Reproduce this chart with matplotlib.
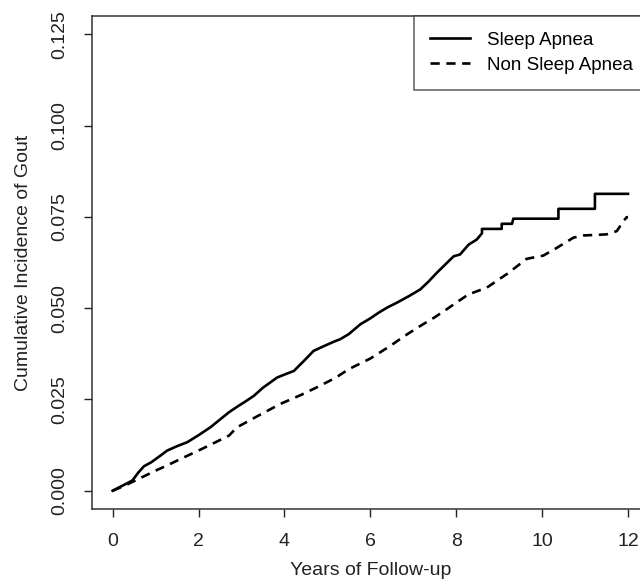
import numpy as np
import matplotlib.pyplot as plt
import matplotlib as mpl

mpl.rc('font', family=['Liberation Sans', 'DejaVu Sans'], size=14)

# cumulative incidence curves; plateaus in the late years are given as corner points
t_sleep = [0, 0.2, 0.46, 0.6, 0.73, 0.9, 1.1, 1.27, 1.5, 1.74, 2.0, 2.28, 2.5, 2.71,
           2.9, 3.1, 3.29, 3.5, 3.83, 4.0, 4.22, 4.45, 4.68, 4.9, 5.15, 5.3, 5.5, 5.77,
           6.0, 6.2, 6.4, 6.62, 6.9, 7.16, 7.35, 7.55, 7.75, 7.94, 8.09, 8.29, 8.48,
           8.6, 8.6, 9.06, 9.06, 9.3, 9.33, 10.38, 10.38, 11.23, 11.23, 12.0]
ci_sleep = [0, 0.0012, 0.0028, 0.005, 0.0067, 0.0078, 0.0095, 0.011, 0.0122, 0.0133,
            0.0152, 0.0174, 0.0195, 0.0215, 0.023, 0.0245, 0.026, 0.0282, 0.031, 0.0318,
            0.0328, 0.0355, 0.0383, 0.0395, 0.0408, 0.0415, 0.0429, 0.0456, 0.0472,
            0.0488, 0.0502, 0.0515, 0.0533, 0.0551, 0.0572, 0.0597, 0.062, 0.0642,
            0.0647, 0.0674, 0.0688, 0.0705, 0.0717, 0.0717, 0.0731, 0.0731, 0.0745,
            0.0745, 0.0772, 0.0772, 0.0813, 0.0813]

t_non = [0, 0.3, 0.65, 1.0, 1.3, 1.58, 2.0, 2.4, 2.71, 2.9, 3.4, 3.91, 4.4, 4.84, 5.2,
         5.5, 6.0, 6.47, 6.8, 7.16, 7.5, 7.78, 8.0, 8.29, 8.71, 9.2, 9.64, 10.03, 10.34,
         10.73, 10.96, 11.5, 11.74, 11.89, 11.97, 12.0]
ci_non = [0, 0.0015, 0.0035, 0.0055, 0.0071, 0.0087, 0.011, 0.0133, 0.0151, 0.0174,
          0.0206, 0.0238, 0.0263, 0.0288, 0.031, 0.0333, 0.0362, 0.0397, 0.0424, 0.0451,
          0.0475, 0.0497, 0.0515, 0.0538, 0.0556, 0.0595, 0.0635, 0.0644, 0.0665, 0.0693,
          0.0699, 0.0702, 0.0711, 0.0738, 0.0749, 0.0749]

xticks = [0, 2, 4, 6, 8, 10, 12]
yticks = [0.000, 0.025, 0.050, 0.075, 0.100, 0.125]

fig = plt.figure(figsize=(6.4, 5.79), dpi=100)
ax = fig.add_axes([0.14375, 0.1209, 0.86969, 0.85147])

ax.plot(t_sleep, ci_sleep, color='black', lw=1.9, label='Sleep Apnea')
ax.plot(t_non, ci_non, color='black', lw=1.9, dashes=(3.5, 2.5),
        label='Non Sleep Apnea')

ax.set_xlim(-0.48, 12.48)
ax.set_ylim(-0.005, 0.130)
ax.set_xticks(xticks)
ax.set_yticks(yticks)
ax.set_yticklabels([f'{v:.3f}' for v in yticks], rotation=90, va='center')
ax.tick_params(direction='out', length=6, width=1, pad=11, colors='#222222')
for s in ax.spines.values():
    s.set_linewidth(1.1)
    s.set_color('#333333')

ax.set_xlabel('Years of Follow-up', labelpad=9, color='#222222')
ax.set_ylabel('Cumulative Incidence of Gout', labelpad=14, color='#222222')

leg = ax.legend(loc='upper right', borderaxespad=0, fancybox=False, fontsize=13.5,
                handlelength=2.1, handletextpad=0.9, labelspacing=0.4,
                borderpad=0.85)
leg.get_frame().set_edgecolor('#333333')
leg.get_frame().set_linewidth(1.1)

plt.savefig('out.png', dpi=100)
